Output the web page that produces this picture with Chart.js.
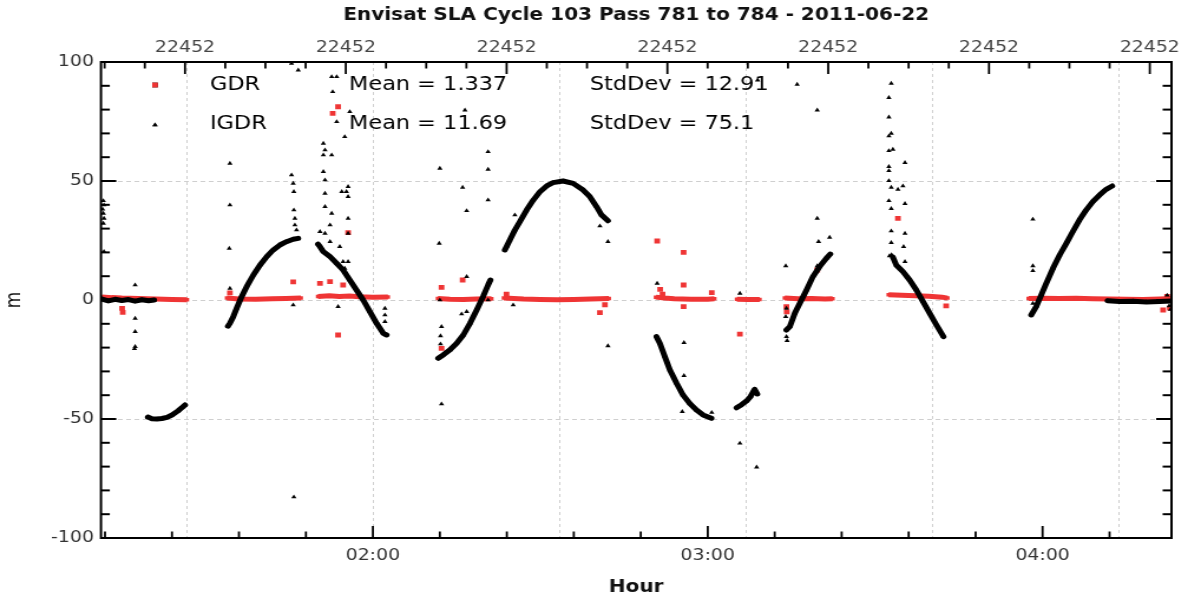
<!DOCTYPE html>
<html>
<head>
<meta charset="utf-8">
<script src="https://cdn.jsdelivr.net/npm/chart.js@4.4.1/dist/chart.umd.min.js"></script>
<style>
  html, body { margin: 0; padding: 0; background: #ffffff; overflow: hidden; }
  #c { display: block; width: 1188px; height: 596px; }
</style>
</head>
<body>
<canvas id="c" width="1007" height="596" style="width:1188px;height:596px"></canvas>
<script>
// ---------------- DATA (time in decimal hours, value in m) ----------------
const chartTitle = 'Envisat SLA Cycle 103 Pass 781 to 784 - 2011-06-22';
const xAxisTitle = 'Hour';
const yAxisTitle = 'm';
const hourTickLabels = ['02:00', '03:00', '04:00'];
const hourTickValues = [2, 3, 4];
const topTickLabel = '22452';
const yTickLabels = ['-100', '-50', '0', '50', '100'];

const seriesNames = ['GDR', 'IGDR'];
const seriesMeans = ['1.337', '11.69'];
const seriesStdDevs = ['12.91', '75.1'];

// IGDR dense tracks (null separates passes)
const igdrTrackTime = [
  1.191, 1.210, 1.230, 1.250, 1.270, 1.290, 1.310, 1.330, 1.347, null,
  1.328, 1.340, 1.355, 1.370, 1.385, 1.400, 1.418, 1.430, 1.439, null,
  1.567, 1.573, 1.583, 1.593, 1.608, 1.623, 1.643, 1.663, 1.683, 1.702, 1.722, 1.742, 1.762, 1.777, null,
  1.836, 1.842, 1.852, 1.872, 1.892, 1.911, 1.931, 1.951, 1.971, 1.991, 2.011, 2.031, 2.041, null,
  2.195, 2.210, 2.230, 2.250, 2.270, 2.290, 2.310, 2.329, 2.344, 2.351, null,
  2.394, 2.399, 2.409, 2.424, 2.439, 2.459, 2.479, 2.499, 2.519, 2.538, 2.568, 2.598, 2.628, 2.648, 2.668, 2.683, 2.702, null,
  2.847, 2.857, 2.872, 2.887, 2.907, 2.926, 2.946, 2.966, 2.986, 3.011, null,
  3.086, 3.101, 3.116, 3.128, 3.140, 3.148, null,
  3.235, 3.245, 3.260, 3.275, 3.295, 3.314, 3.334, 3.354, 3.366, null,
  3.553, 3.563, 3.583, 3.603, 3.623, 3.643, 3.663, 3.683, 3.704, null,
  3.966, 3.981, 3.996, 4.011, 4.031, 4.051, 4.071, 4.090, 4.110, 4.130, 4.150, 4.170, 4.190, 4.208, null,
  4.194, 4.230, 4.270, 4.310, 4.350, 4.385
];
const igdrTrackValue = [
  0.4, -0.4, 0.3, -0.2, 0.2, -0.5, 0.1, -0.3, 0.0, null,
  -49.2, -49.9, -50.0, -49.8, -49.3, -48.3, -46.6, -45.2, -44.1, null,
  -11.0, -9.8, -7.0, -3.5, 1.4, 5.6, 10.5, 14.7, 18.2, 21.0, 23.1, 24.5, 25.5, 25.9, null,
  23.5, 22.4, 20.3, 18.2, 15.4, 12.6, 8.4, 4.2, 0.0, -4.9, -9.8, -14.0, -14.7, null,
  -24.5, -23.1, -21.0, -18.2, -14.7, -9.8, -4.2, 1.4, 6.3, 8.4, null,
  21.0, 22.4, 25.2, 29.4, 32.9, 37.8, 42.0, 45.5, 47.9, 49.3, 50.0, 49.0, 46.2, 43.4, 39.2, 35.7, 33.3, null,
  -15.4, -18.2, -23.8, -29.4, -35.0, -39.9, -43.4, -46.2, -48.3, -49.7, null,
  -45.3, -44.0, -42.4, -40.5, -37.5, -39.5, null,
  -12.6, -11.2, -5.6, -1.4, 4.2, 9.8, 14.0, 17.5, 19.3, null,
  18.0, 14.7, 11.9, 8.4, 4.2, -0.7, -5.6, -10.5, -15.4, null,
  -6.3, -2.8, 2.1, 7.0, 13.3, 18.9, 23.8, 28.7, 33.6, 37.8, 41.3, 44.1, 46.5, 47.9, null,
  -0.3, -0.6, -0.5, -0.8, -0.6, -0.4
];

// IGDR scattered points
const igdrPointTime = [
  1.195, 1.197, 1.193, 1.195, 1.197, 1.195, 1.197,
  1.290, 1.290, 1.290, 1.290, 1.288,
  1.573, 1.573, 1.571, 1.573,
  1.757, 1.762, 1.764, 1.764, 1.767, 1.767, 1.772, 1.762, 1.777, 1.757, 1.764,
  1.852, 1.857, 1.852, 1.877, 1.852, 1.857, 1.857, 1.857, 1.877, 1.872, 1.842, 1.857, 1.872,
  1.877, 1.892, 1.880, 1.892, 1.916, 1.931, 1.921, 1.926, 1.907, 1.926, 1.926, 1.926,
  1.901, 1.911, 1.926, 1.916, 1.896, 2.036, 2.036, 2.036,
  2.200, 2.198, 2.344, 2.344, 2.344, 2.268, 2.280, 2.280, 2.200, 2.205, 2.202, 2.202,
  2.265, 2.280, 2.344, 2.205, 2.275,
  2.424, 2.419, 2.678, 2.702, 2.702,
  2.849, 2.929, 2.929, 2.924, 3.012,
  3.096, 3.096, 3.146, 3.149,
  3.233, 3.235, 3.233, 3.235, 3.237, 3.267, 3.327, 3.327, 3.331, 3.364, 3.327,
  3.548, 3.541, 3.541, 3.548, 3.541, 3.553, 3.541, 3.541, 3.541, 3.541, 3.548, 3.568,
  3.583, 3.589, 3.541, 3.548, 3.589, 3.548, 3.589, 3.548, 3.585, 3.589, 3.543, 3.549,
  3.971, 3.971, 3.971, 3.971,
  4.372, 4.378, 4.382
];
const igdrPointValue = [
  41.7, 39.9, 38.1, 36.4, 34.3, 32.2, 20.3,
  6.3, -7.7, -13.3, -19.6, -20.5,
  57.4, 39.9, 21.7, 4.9,
  52.5, 49.0, 45.5, 37.8, 34.3, 31.5, 29.4, -2.1, 96.6, 99.4, -82.8,
  65.8, 63.0, 60.9, 60.9, 53.9, 50.4, 44.8, 39.2, 36.4, 31.5, 28.7, 28.0, 24.5,
  93.8, 93.8, 87.5, 74.9, 68.6, 79.1, 45.5, 47.6, 45.5, 43.4, 34.3, 28.0,
  22.4, 16.1, 16.1, 13.3, -2.8, -3.5, -6.3, -9.1,
  55.3, 23.8, 62.3, 54.9, 42.0, 47.3, 37.5, 9.8, 0.0, -11.2, -15.1, -18.5,
  -5.9, -4.9, 0.0, -43.7, 79.8,
  35.7, -2.1, 31.1, 24.5, -19.3,
  7.0, -17.9, -31.8, -46.9, -47.3,
  2.8, -60.2, -70.2, 92.4,
  14.3, -3.5, -7.0, -15.4, -17.1, 90.6, 79.8, 34.3, 24.5, 26.3, 14.3,
  91.0, 85.0, 76.8, 70.0, 68.9, 63.3, 62.7, 56.0, 54.3, 50.1, 47.3, 46.5,
  47.9, 57.7, 41.7, 38.4, 40.5, 29.0, 28.0, 24.1, 22.4, 16.1, 18.5, 19.0,
  33.9, 14.3, 12.3, -1.4,
  2.0, -2.5, -4.0
];

// GDR dense tracks
const gdrTrackTime = [
  1.191, 1.220, 1.250, 1.300, 1.350, 1.400, 1.445, null,
  1.564, 1.600, 1.650, 1.700, 1.740, 1.785, null,
  1.836, 1.870, 1.900, 1.930, 1.960, 2.000, 2.045, null,
  2.194, 2.230, 2.270, 2.310, 2.354, null,
  2.391, 2.450, 2.500, 2.550, 2.600, 2.650, 2.705, null,
  2.845, 2.870, 2.900, 2.950, 3.000, 3.020, null,
  3.087, 3.120, 3.155, null,
  3.230, 3.270, 3.310, 3.350, 3.373, null,
  3.540, 3.580, 3.620, 3.660, 3.700, 3.716, null,
  3.958, 4.000, 4.050, 4.100, 4.150, 4.200, 4.250, 4.300, 4.350, 4.385
];
const gdrTrackValue = [
  1.3, 1.0, 0.8, 0.6, 0.4, 0.2, 0.1, null,
  0.8, 0.4, 0.3, 0.5, 0.6, 0.8, null,
  1.5, 1.8, 1.5, 1.7, 1.4, 1.2, 1.3, null,
  0.6, 0.3, 0.2, 0.4, 0.5, null,
  0.8, 0.4, 0.2, 0.1, 0.2, 0.4, 0.6, null,
  1.2, 0.8, 0.5, 0.3, 0.3, 0.5, null,
  0.3, 0.2, 0.2, null,
  0.8, 0.5, 0.6, 0.4, 0.5, null,
  2.2, 2.0, 1.8, 1.6, 1.2, 0.8, null,
  0.6, 0.7, 0.6, 0.7, 0.5, 0.4, 0.3, 0.2, 0.4, 0.6
];

// GDR scattered points
const gdrPointTime = [
  1.251, 1.253, 1.573, 1.762, 1.842, 1.872, 1.911, 1.880, 1.896, 1.926, 1.896,
  2.205, 2.268, 2.205, 2.399, 2.678, 2.693,
  2.849, 2.928, 2.928, 2.928, 2.858, 2.865, 3.012,
  3.096, 3.235, 3.236, 3.327, 3.568, 3.712,
  4.360, 4.380, 4.372
];
const gdrPointValue = [
  -3.5, -5.2, 3.0, 7.6, 7.0, 7.7, 6.3, 78.4, 81.2, 28.3, -14.7,
  5.3, 8.4, -20.3, 2.5, -5.3, -2.0,
  24.8, 20.0, 6.3, -2.8, 4.5, 2.5, 3.1,
  -14.3, -2.8, -5.0, 12.6, 34.3, -2.5,
  -4.2, -3.4, 1.5
];

// ---------------- helpers ----------------
const toXY = (t, v) => t.map((x, i) => ({ x: x, y: v[i] }));
const RED = '#ef3535';
const BLACK = '#000000';
const FONT = 'DejaVu Sans';

const xMin = 1.188, xMax = 4.385;        // visible hour range
const topMin = -2.09, topMax = 24.54;     // secondary top axis units
const gridMin = -1.458, gridMax = 4.282;  // vertical grid axis units

const isHour = v => Math.abs(v - Math.round(v)) < 1e-6;

// ticks drawn inward + frame
const frameTicks = {
  id: 'frameTicks',
  afterDatasetsDraw(chart) {
    const { ctx, chartArea: a, scales } = chart;
    ctx.save();
    ctx.strokeStyle = '#000';
    ctx.lineCap = 'butt';
    const seg = (x1, y1, x2, y2) => { ctx.beginPath(); ctx.moveTo(x1, y1); ctx.lineTo(x2, y2); ctx.stroke(); };
    ctx.lineWidth = 1.8;
    scales.x.ticks.forEach(t => {
      const p = scales.x.getPixelForValue(t.value);
      seg(p, a.bottom, p, a.bottom - (isHour(t.value) ? 12 : 6.5));
    });
    scales.xTop.ticks.forEach(t => {
      const p = scales.xTop.getPixelForValue(t.value);
      const major = Math.round(t.value) % 4 === 0;
      seg(p, a.top, p, a.top + (major ? 12 : 6.5));
    });
    ctx.lineWidth = 2;
    scales.y.ticks.forEach(t => {
      const p = scales.y.getPixelForValue(t.value);
      const len = (Math.round(t.value) % 50 === 0) ? 13 : 7.5;
      seg(a.left, p, a.left + len, p);
      seg(a.right, p, a.right - len, p);
    });
    ctx.lineWidth = 2;
    ctx.strokeRect(a.left, a.top, a.right - a.left, a.bottom - a.top);
    ctx.restore();
  }
};

// in-plot legend with statistics
const statLegend = {
  id: 'statLegend',
  afterDatasetsDraw(chart) {
    const { ctx } = chart;
    const rows = [85, 124];
    ctx.save();
    ctx.fillStyle = '#000';
    ctx.font = `19px "${FONT}"`;
    ctx.textBaseline = 'middle';
    ctx.textAlign = 'left';
    rows.forEach((y, i) => {
      if (i === 0) {
        Chart.helpers.drawPoint(ctx, { pointStyle: 'rect', radius: 3.4, borderWidth: 0, rotation: 0 }, 131.4, y);
        ctx.fillStyle = RED; ctx.fill(); ctx.fillStyle = '#000';
      } else {
        Chart.helpers.drawPoint(ctx, { pointStyle: 'triangle', radius: 2.6, borderWidth: 0, rotation: 0 }, 131.4, y + 1);
        ctx.fillStyle = BLACK; ctx.fill();
      }
      ctx.fillText(seriesNames[i], 178, y);
      ctx.fillText('Mean = ' + seriesMeans[i], 295.8, y);
      ctx.fillText('StdDev = ' + seriesStdDevs[i], 500, y);
    });
    ctx.restore();
  }
};

const hourLabel = v => {
  const idx = hourTickValues.findIndex(h => Math.abs(h - v) < 1e-6);
  return idx >= 0 ? hourTickLabels[idx] : '';
};

new Chart(document.getElementById('c'), {
  type: 'scatter',
  data: {
    datasets: [
      {
        label: 'IGDR track', data: toXY(igdrTrackTime, igdrTrackValue),
        showLine: true, spanGaps: false, borderColor: BLACK, borderWidth: 5,
        backgroundColor: BLACK, pointStyle: 'triangle', pointRadius: 2.6, pointBorderWidth: 0,
        borderCapStyle: 'round', borderJoinStyle: 'round', order: 0, xAxisID: 'x', yAxisID: 'y'
      },
      {
        label: 'IGDR', data: toXY(igdrPointTime, igdrPointValue),
        showLine: false, backgroundColor: BLACK, borderWidth: 0,
        pointStyle: 'triangle', pointRadius: 2.6, order: 1, xAxisID: 'x', yAxisID: 'y'
      },
      {
        label: 'GDR', data: toXY(gdrPointTime, gdrPointValue),
        showLine: false, backgroundColor: RED, borderWidth: 0,
        pointStyle: 'rect', pointRadius: 3.4, order: 2, xAxisID: 'x', yAxisID: 'y'
      },
      {
        label: 'GDR track', data: toXY(gdrTrackTime, gdrTrackValue),
        showLine: true, spanGaps: false, borderColor: RED, borderWidth: 5,
        backgroundColor: RED, pointStyle: 'rect', pointRadius: 2.5, pointBorderWidth: 0,
        borderCapStyle: 'butt', order: 3, xAxisID: 'x', yAxisID: 'y'
      }
    ]
  },
  options: {
    responsive: false,
    animation: false,
    events: [],
    layout: { padding: { left: 0, right: 14, top: 0, bottom: 0 } },
    plugins: {
      legend: { display: false },
      tooltip: { enabled: false },
      title: {
        display: true, text: chartTitle, color: '#111', fullSize: false,
        font: { family: FONT, size: 17, weight: 'bold', lineHeight: 1.2 },
        padding: { top: 5, bottom: 0 }
      }
    },
    scales: {
      x: {
        type: 'linear', position: 'bottom', min: xMin, max: xMax,
        afterBuildTicks: s => { s.ticks = Array.from({ length: 16 }, (_, i) => ({ value: (6 + i) / 5 })); },
        afterFit: s => { s.height = 58; },
        ticks: {
          autoSkip: false, maxRotation: 0, padding: 8, color: '#333',
          font: { family: FONT, size: 16 },
          callback: v => hourLabel(v)
        },
        grid: { display: false, drawTicks: false },
        border: { display: false },
        title: {
          display: true, text: xAxisTitle, color: '#111',
          font: { family: FONT, size: 17, weight: 'bold', lineHeight: 1.0 },
          padding: { top: 0, bottom: 0 }
        }
      },
      xGrid: {
        type: 'linear', position: 'bottom', min: gridMin, max: gridMax,
        afterBuildTicks: s => { s.ticks = [-1, 0, 1, 2, 3, 4].map(v => ({ value: v })); },
        afterFit: s => { s.height = 0; },
        ticks: { display: false },
        grid: { display: true, drawTicks: false, color: '#cfcfcf', lineWidth: 1 },
        border: { display: false, dash: [3, 3] }
      },
      xTop: {
        type: 'linear', position: 'top', min: topMin, max: topMax,
        afterBuildTicks: s => { s.ticks = Array.from({ length: 27 }, (_, i) => ({ value: i - 2 })); },
        afterFit: s => { s.height = 36.6; },
        ticks: {
          autoSkip: false, maxRotation: 0, padding: 5, color: '#444',
          font: { family: FONT, size: 16 },
          callback: v => (Math.round(v) % 4 === 0 ? topTickLabel : '')
        },
        grid: { display: false, drawTicks: false },
        border: { display: false }
      },
      y: {
        type: 'linear', position: 'left', min: -100, max: 100,
        afterBuildTicks: s => { s.ticks = Array.from({ length: 21 }, (_, i) => ({ value: -100 + 10 * i })); },
        afterFit: s => { s.width = 85.6; },
        ticks: {
          autoSkip: false, padding: 6, color: '#333',
          font: { family: FONT, size: 16 },
          callback: v => {
            const idx = [-100, -50, 0, 50, 100].indexOf(Math.round(v));
            return idx >= 0 ? yTickLabels[idx] : '';
          }
        },
        grid: {
          drawTicks: false, lineWidth: 1,
          color: c => (Math.round(c.tick.value) % 50 === 0 && Math.abs(c.tick.value) < 100) ? '#cfcfcf' : 'rgba(0,0,0,0)'
        },
        border: { display: false, dash: [4, 3] },
        title: {
          display: true, text: yAxisTitle, color: '#111',
          font: { family: FONT, size: 17, weight: 'normal', lineHeight: 1.2 },
          padding: { top: 2, bottom: 0 }
        }
      }
    }
  },
  plugins: [frameTicks, statLegend]
});
</script>
</body>
</html>
